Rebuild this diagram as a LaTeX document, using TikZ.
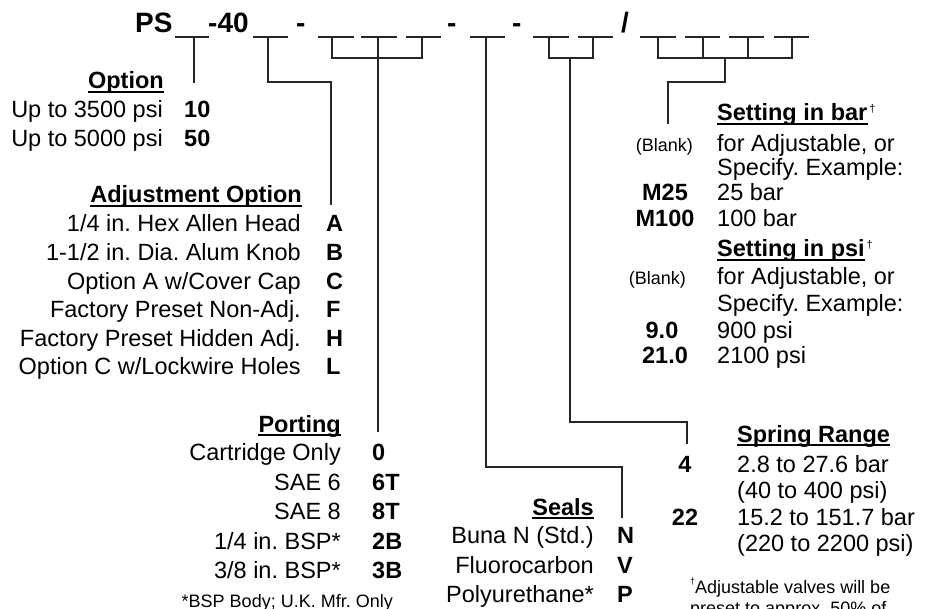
\documentclass[tikz,border=0pt]{standalone}
\usepackage{fontspec}
\setmainfont{Liberation Sans}
\frenchspacing
\begin{document}
\begin{tikzpicture}[x=1pt,y=-1pt,
  txt/.style={inner sep=0pt, font=\fontsize{23.5}{28}\selectfont},
  code/.style={inner sep=0pt, font=\fontsize{23.5}{28}\selectfont\bfseries},
  hdr/.style={inner sep=0pt, font=\fontsize{23.5}{28}\selectfont\bfseries},
  small/.style={inner sep=0pt, font=\fontsize{18}{21}\selectfont},
  dag/.style={inner sep=0pt, font=\fontsize{11}{13}\selectfont, anchor=base west},
  big/.style={inner sep=0pt, font=\fontsize{28}{32}\selectfont\bfseries},
  conn/.style={line width=1.4pt, draw=black!85},
  blankln/.style={line width=1.4pt, draw=black!85},
  ul/.style={line width=1.6pt, draw=black},
]
\useasboundingbox (0,0) rectangle (934,609);
\fill[white] (0,0) rectangle (934,609);

% ---------- top code line ----------
\node[big, anchor=base west] (ps) at (135,33) {PS};
\node[big, anchor=base west] (f40) at (208,33) {-40};
\node[big, anchor=base west] (d1) at (296,33) {-};
\node[big, anchor=base west] (d2) at (447,33) {-};
\node[big, anchor=base west] (d3) at (512,33) {-};
\node[big, anchor=base west] (sl) at (621,33) {/};

\foreach \a/\b [count=\i] in {175/209,253/288,318/354,361/397,406/441,470/505,533/569,578/613,640/676,685/720,729/764,774/809}
  \draw[blankln] (\a,37) coordinate (bl\i) -- (\b,37) coordinate (br\i);

% tick coordinates
\coordinate (t1) at (194,37);
\coordinate (t2) at (268,37);
\coordinate (t3a) at (332,37); \coordinate (t3b) at (378,37); \coordinate (t3c) at (422,37);
\coordinate (t6) at (486,37);
\coordinate (t7a) at (549,37); \coordinate (t7b) at (593,37);
\coordinate (t9a) at (658,37); \coordinate (t9b) at (703,37); \coordinate (t9c) at (748,37); \coordinate (t9d) at (792,37);

% ---------- Option ----------
\node[hdr, anchor=base east] (hOpt) at (164,89) {Option};
\draw[ul] ([yshift=-3pt]hOpt.base west) -- ([yshift=-3pt]hOpt.base east);
\node[txt, anchor=base east] (o1) at (163,118) {Up to 3500 psi};
\node[code, anchor=base west] (c10) at (184,118) {10};
\node[txt, anchor=base east] (o2) at (163,147) {Up to 5000 psi};
\node[code, anchor=base west] (c50) at (184,147) {50};

% ---------- Adjustment Option ----------
\node[hdr, anchor=base east] (hAdj) at (302,203) {Adjustment Option};
\draw[ul] ([yshift=-3pt]hAdj.base west) -- ([yshift=-3pt]hAdj.base east);
\node[txt, anchor=base east] (a1) at (301,232) {1/4 in. Hex Allen Head};
\node[code, anchor=base west] (ac1) at (326,232) {A};
\node[txt, anchor=base east] (a2) at (301,261) {1-1/2 in. Dia. Alum Knob};
\node[code, anchor=base west] (ac2) at (326,261) {B};
\node[txt, anchor=base east] (a3) at (301,290) {Option A w/Cover Cap};
\node[code, anchor=base west] (ac3) at (326,290) {C};
\node[txt, anchor=base east] (a4) at (301,318) {Factory Preset Non-Adj.};
\node[code, anchor=base west] (ac4) at (326,318) {F};
\node[txt, anchor=base east] (a5) at (301,347) {Factory Preset Hidden Adj.};
\node[code, anchor=base west] (ac5) at (326,347) {H};
\node[txt, anchor=base east] (a6) at (301,374) {Option C w/Lockwire Holes};
\node[code, anchor=base west] (ac6) at (326,374) {L};

% ---------- Porting ----------
\node[hdr, anchor=base east] (hPort) at (341,432) {Porting};
\draw[ul] ([yshift=-3pt]hPort.base west) -- ([yshift=-3pt]hPort.base east);
\node[txt, anchor=base east] (p1) at (341,460) {Cartridge Only};
\node[code, anchor=base west] (pc1) at (372,460) {0};
\node[txt, anchor=base east] (p2) at (341,490) {SAE 6};
\node[code, anchor=base west] (pc2) at (372,490) {6T};
\node[txt, anchor=base east] (p3) at (341,519) {SAE 8};
\node[code, anchor=base west] (pc3) at (372,519) {8T};
\node[txt, anchor=base east] (p4) at (341,549) {1/4 in. BSP*};
\node[code, anchor=base west] (pc4) at (372,549) {2B};
\node[txt, anchor=base east] (p5) at (341,578) {3/8 in. BSP*};
\node[code, anchor=base west] (pc5) at (372,578) {3B};
\node[small, anchor=base east] (pfn) at (393,607) {*BSP Body; U.K. Mfr. Only};

% ---------- Seals ----------
\node[hdr, anchor=base east] (hSeal) at (594,515) {Seals};
\draw[ul] ([yshift=-3pt]hSeal.base west) -- ([yshift=-3pt]hSeal.base east);
\node[txt, anchor=base east] (s1) at (594,543) {Buna N (Std.)};
\node[code, anchor=base west] (sc1) at (617,543) {N};
\node[txt, anchor=base east] (s2) at (594,573) {Fluorocarbon};
\node[code, anchor=base west] (sc2) at (617,573) {V};
\node[txt, anchor=base east] (s3) at (594,602) {Polyurethane*};
\node[code, anchor=base west] (sc3) at (617,602) {P};

% ---------- Spring Range ----------
\node[hdr, anchor=base west] (hSpr) at (737,442) {Spring Range};
\draw[ul] ([yshift=-3pt]hSpr.base west) -- ([yshift=-3pt]hSpr.base east);
\node[code, anchor=base] (r4) at (685,472) {4};
\node[txt, anchor=base west] (r4a) at (737,472) {2.8 to 27.6 bar};
\node[txt, anchor=base west] (r4b) at (737,498) {(40 to 400 psi)};
\node[code, anchor=base] (r22) at (685,525) {22};
\node[txt, anchor=base west] (r22a) at (737,525) {15.2 to 151.7 bar};
\node[txt, anchor=base west] (r22b) at (737,551) {(220 to 2200 psi)};
\node[small, anchor=base west] (fn1) at (690,593) {\raisebox{0.45em}{\fontsize{9}{10}\selectfont †}Adjustable valves will be};
\node[small, anchor=base west] (fn2) at (690,614) {preset to approx. 50\% of};

% ---------- Setting in bar ----------
\node[hdr, anchor=base west] (hBar) at (717,121) {Setting in bar};
\draw[ul] ([yshift=-3pt]hBar.base west) -- ([yshift=-3pt]hBar.base east);
\node[dag] (dBar) at ([xshift=1.5pt,yshift=8pt]hBar.base east) {†};
\node[small, anchor=base east] (bk1) at (693,152) {(Blank)};
\node[txt, anchor=base west] (bt1) at (717,152) {for Adjustable, or};
\node[txt, anchor=base west] (bt2) at (717,176) {Specify. Example:};
\node[code, anchor=base] (m25) at (665,201) {M25};
\node[txt, anchor=base west] (bt3) at (717,201) {25 bar};
\node[code, anchor=base] (m100) at (665,227) {M100};
\node[txt, anchor=base west] (bt4) at (717,227) {100 bar};

% ---------- Setting in psi ----------
\node[hdr, anchor=base west] (hPsi) at (717,257) {Setting in psi};
\draw[ul] ([yshift=-3pt]hPsi.base west) -- ([yshift=-3pt]hPsi.base east);
\node[dag] (dPsi) at ([xshift=1.5pt,yshift=8pt]hPsi.base east) {†};
\node[small, anchor=base east] (bk2) at (686,285) {(Blank)};
\node[txt, anchor=base west] (pt1) at (717,285) {for Adjustable, or};
\node[txt, anchor=base west] (pt2) at (717,312) {Specify. Example:};
\node[code, anchor=base] (n9) at (662,339) {9.0};
\node[txt, anchor=base west] (pt3) at (717,339) {900 psi};
\node[code, anchor=base] (n21) at (665,363) {21.0};
\node[txt, anchor=base west] (pt4) at (717,363) {2100 psi};

% ---------- connector ends ----------
\coordinate (e1) at (194,83);
\coordinate (k2) at (331,82); \coordinate (e2) at (331,205);
\coordinate (m3) at (378,58); \coordinate (e3) at (378,432);
\coordinate (k6) at (622,467); \coordinate (e6) at (622,518);
\coordinate (m7) at (570,58); \coordinate (k7) at (687,422); \coordinate (e7) at (687,444);
\coordinate (m9) at (725,58); \coordinate (k9) at (668,82); \coordinate (e9) at (668,124);

% ---------- connectors ----------
\draw[conn] (t1) -- (e1);
\draw[conn] (t2) |- (k2) -- (e2);
\draw[conn] (t3a) -- (t3a |- m3) -- (t3c |- m3) -- (t3c);
\draw[conn] (t3b) -- (e3);
\draw[conn] (t6) |- (k6) -- (e6);
\draw[conn] (t7a) -- (t7a |- m7) -- (t7b |- m7) -- (t7b);
\draw[conn] (m7) |- (k7) -- (e7);
\draw[conn] (t9a) -- (t9a |- m9) -- (t9d |- m9) -- (t9d);
\draw[conn] (t9b) -- (t9b |- m9);
\draw[conn] (t9c) -- (t9c |- m9);
\draw[conn] (m9) -- (m9 |- k9) -- (k9) -- (e9);
\end{tikzpicture}
\end{document}
